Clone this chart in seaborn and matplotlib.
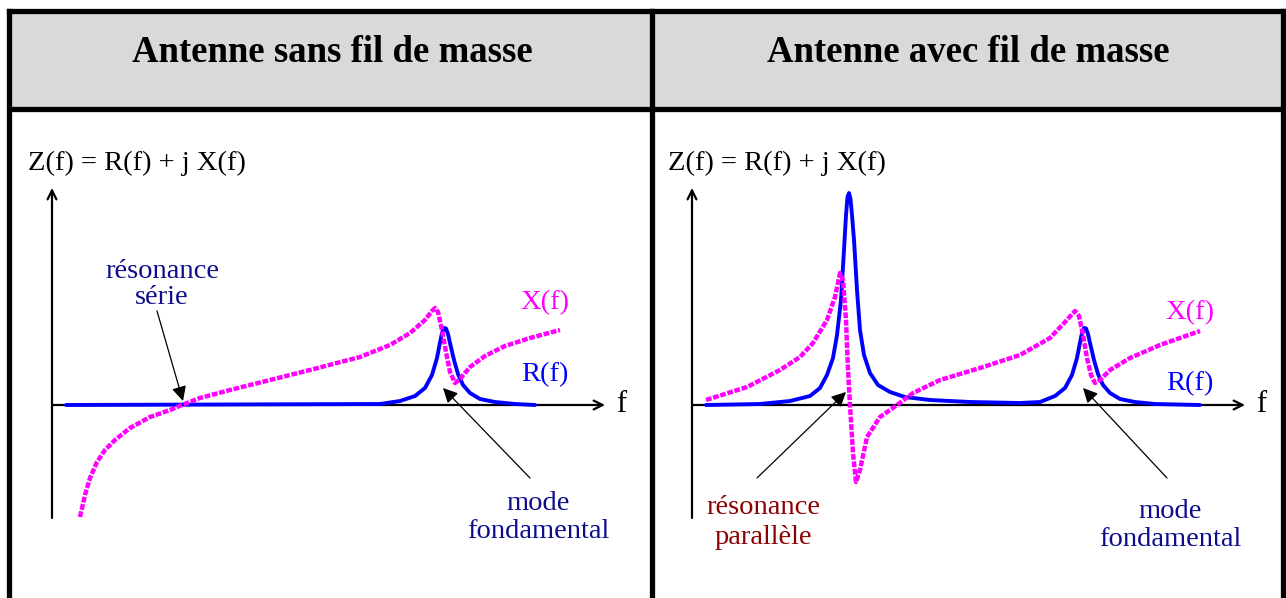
import matplotlib
matplotlib.use("Agg")
import matplotlib.pyplot as plt
import seaborn as sns

left_r_f = [0.28, 6.56, 6.96, 7.26, 7.46, 7.6, 7.7, 7.75, 7.8, 7.84, 7.88, 7.92, 7.96, 8.04, 8.12, 8.22, 8.36,
            8.56, 8.86, 9.26, 9.66]
left_r_z = [0, 0.02, 0.08, 0.18, 0.34, 0.6, 0.94, 1.2, 1.44, 1.54, 1.53, 1.42, 1.24, 0.9, 0.62, 0.4, 0.24,
            0.12, 0.06, 0.02, 0]

left_x_f = [0.56, 0.66, 0.76, 0.9, 1.06, 1.26, 1.56, 1.96, 2.36, 2.6, 2.96, 3.56, 4.36, 5.16, 6.16, 6.76, 7.16,
            7.46, 7.6, 7.66, 7.72, 7.8, 7.88, 7.96, 8.06, 8.16, 8.36, 8.66, 9.06, 9.56, 10.16]
left_x_z = [-2.24, -1.8, -1.46, -1.14, -0.9, -0.7, -0.46, -0.24, -0.1, 0, 0.14, 0.3, 0.5, 0.7, 0.96, 1.2, 1.44,
            1.7, 1.88, 1.94, 1.86, 1.5, 1.06, 0.66, 0.44, 0.52, 0.76, 0.98, 1.18, 1.34, 1.5]

right_r_f = [0.28, 1.36, 1.96, 2.36, 2.56, 2.7, 2.82, 2.9, 2.98, 3.04, 3.08, 3.11, 3.14, 3.17, 3.2, 3.24, 3.3,
             3.36, 3.44, 3.56, 3.72, 3.96, 4.26, 4.76, 5.56, 6.56, 6.96, 7.26, 7.46, 7.6, 7.7, 7.75, 7.8, 7.84,
             7.88, 7.92, 7.96, 8.04, 8.12, 8.22, 8.36, 8.56, 8.86, 9.26, 10.16]
right_r_z = [0, 0.02, 0.08, 0.18, 0.34, 0.6, 0.94, 1.4, 2.1, 3.1, 3.8, 4.16, 4.24, 4.12, 3.8, 3.3, 2.3,
             1.5, 1.0, 0.64, 0.4, 0.26, 0.16, 0.1, 0.06, 0.04, 0.06, 0.18, 0.34, 0.6, 0.94, 1.2, 1.44, 1.54,
             1.53, 1.42, 1.24, 0.9, 0.62, 0.4, 0.24, 0.12, 0.06, 0.02, 0]

right_x_f = [0.28, 1.1, 1.76, 2.16, 2.42, 2.7, 2.86, 2.96, 3.02, 3.08, 3.12, 3.16, 3.22, 3.28, 3.36, 3.5, 3.76,
             4.1, 4.42, 4.96, 5.76, 6.56, 7.16, 7.46, 7.66, 7.74, 7.82, 7.9, 7.98, 8.06, 8.16, 8.36, 8.76,
             9.36, 10.16]
right_x_z = [0.1, 0.36, 0.7, 0.96, 1.24, 1.7, 2.16, 2.64, 2.5, 1.7, 0.7, 0, -0.96, -1.54, -1.3, -0.64, -0.24,
             0, 0.24, 0.5, 0.74, 1.0, 1.34, 1.66, 1.88, 1.78, 1.4, 0.94, 0.6, 0.44, 0.5, 0.7, 0.94,
             1.2, 1.48]

titles = ["Antenne sans fil de masse", "Antenne avec fil de masse"]
formula = "Z(f) = R(f) + j X(f)"

sns.set_style("white")
plt.rcParams["font.family"] = ["Liberation Serif", "DejaVu Serif"]
plt.rcParams["text.color"] = "black"

W, H = 1286, 598
fig = plt.figure(figsize=(W / 100, H / 100), dpi=100)

# table frame in pixel coordinates
bg = fig.add_axes([0, 0, 1, 1])
bg.set_xlim(0, W)
bg.set_ylim(H, 0)
bg.axis("off")
bg.fill_between([9, 1283], 11, 109, color="#d9d9d9", lw=0)
lw_frame = 3.8
bg.plot([9, 1283], [11, 11], color="black", lw=lw_frame, solid_capstyle="projecting")
bg.plot([9, 1283], [109, 109], color="black", lw=lw_frame)
for xv in [9, 652, 1283]:
    bg.plot([xv, xv], [11, H + 5], color="black", lw=lw_frame, solid_capstyle="projecting")
bg.text(332, 53, titles[0], ha="center", va="center", fontsize=26.5, fontweight="bold")
bg.text(968, 53, titles[1], ha="center", va="center", fontsize=26.5, fontweight="bold")

UNIT = 50.0
navy = "#0c0c8c"
magenta = "#ff00ff"
blue = "#0000ff"
lab = 20.5
dy = 3  # text baseline nudge


def make_panel(x0, x1, ox, oy):
    # axes covering pixel box x0..x1, 112..598 with 1 unit = 50 px, origin at (ox, oy)
    ax = fig.add_axes([x0 / W, 0, (x1 - x0) / W, (H - 112) / H])
    ax.set_xlim((x0 - ox) / UNIT, (x1 - ox) / UNIT)
    ax.set_ylim((oy - H) / UNIT, (oy - 112) / UNIT)
    ax.axis("off")
    ax.patch.set_alpha(0)
    # axes arrows
    ax.annotate("", xy=(0, (oy - 188) / UNIT), xytext=(0, (oy - 518) / UNIT),
                arrowprops=dict(arrowstyle="->", lw=1.6, color="black", mutation_scale=16, shrinkA=0, shrinkB=0))
    ax.annotate("", xy=(11.06, 0), xytext=(0, 0),
                arrowprops=dict(arrowstyle="->", lw=1.6, color="black", mutation_scale=16, shrinkA=0, shrinkB=0))
    return ax


def draw_curves(ax, rf, rz, xf, xz):
    sns.lineplot(x=rf, y=rz, ax=ax, color=blue, lw=2.8, estimator=None, sort=False, zorder=3)
    sns.lineplot(x=xf, y=xz, ax=ax, color=magenta, lw=3.2, estimator=None, sort=False,
                 ls=(0, (1.3, 0.38)), zorder=4)


def pointer(text_xy, tip_xy):
    bg.annotate("", xy=tip_xy, xytext=text_xy,
                arrowprops=dict(arrowstyle="-|>", lw=0.9, color="black", mutation_scale=22,
                                shrinkA=0, shrinkB=0))


def label(x, ys, lines, color):
    for y, t in zip(ys, lines):
        bg.text(x, y + dy, t, ha="center", va="center", fontsize=lab, color=color)


# left panel
axl = make_panel(12, 650, 52, 405)
draw_curves(axl, left_r_f, left_r_z, left_x_f, left_x_z)
bg.text(28, 160 + dy, formula, ha="left", va="center", fontsize=lab)
bg.text(616, 405, "f", ha="left", va="center", fontsize=22)
label(162, [268, 295], ["résonance", "série"], navy)
pointer((157, 311), (183, 401))
label(545, [300], ["X(f)"], magenta)
label(545, [372], ["R(f)"], blue)
label(538, [500, 529], ["mode", "fondamental"], navy)
pointer((530, 478), (443, 388))

# right panel
axr = make_panel(654, 1282, 692, 405)
draw_curves(axr, right_r_f, right_r_z, right_x_f, right_x_z)
bg.text(668, 160 + dy, formula, ha="left", va="center", fontsize=lab)
bg.text(1256, 405, "f", ha="left", va="center", fontsize=22)
label(1190, [310], ["X(f)"], magenta)
label(1190, [381], ["R(f)"], blue)
label(763, [505, 535], ["résonance", "parallèle"], "#8b0000")
pointer((757, 478), (846, 392))
label(1170, [508, 536], ["mode", "fondamental"], navy)
pointer((1167, 478), (1083, 388))

fig.savefig("out.png", dpi=100)
